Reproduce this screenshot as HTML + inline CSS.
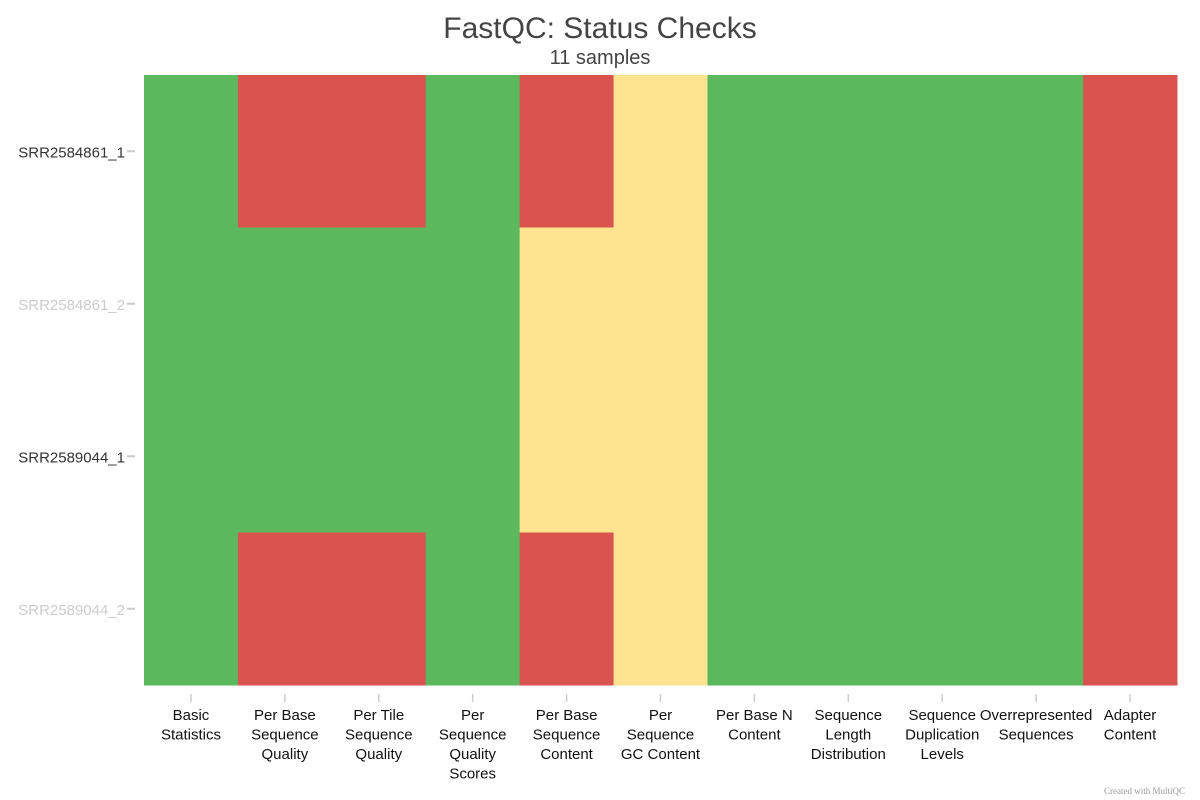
<!DOCTYPE html>
<html><head><meta charset="utf-8"><style>
body{margin:0;background:#fff;}
svg{display:block;font-family:"Liberation Sans",sans-serif;}
</style></head><body>
<svg id="chart" width="1200" height="800">
<text x="600" y="38" text-anchor="middle" font-size="30" fill="#444">FastQC: Status Checks</text>
<text x="600" y="64" text-anchor="middle" font-size="20" fill="#444">11 samples</text>
<g id="cells"></g>
<g id="ylab"></g>
<g id="xlab"></g>
<text x="1185" y="794" text-anchor="end" font-size="9" fill="#999" font-family="Liberation Serif, serif">Created with MultiQC</text>
</svg>
<script>
const samples = ["SRR2584861_1","SRR2584861_2","SRR2589044_1","SRR2589044_2"];
const sampleFaded = [false,true,false,true];
const checks = [["Basic","Statistics"],["Per Base","Sequence","Quality"],["Per Tile","Sequence","Quality"],["Per","Sequence","Quality","Scores"],["Per Base","Sequence","Content"],["Per","Sequence","GC Content"],["Per Base N","Content"],["Sequence","Length","Distribution"],["Sequence","Duplication","Levels"],["Overrepresented","Sequences"],["Adapter","Content"]];
// 1 = pass, 0.5 = warn, 0 = fail
const row0 = [1,0,0,1,0,0.5,1,1,1,1,0];
const row1 = [1,1,1,1,0.5,0.5,1,1,1,1,0];
const row2 = [1,1,1,1,0.5,0.5,1,1,1,1,0];
const row3 = [1,0,0,1,0,0.5,1,1,1,1,0];
const values = [row0,row1,row2,row3];

const NS="http://www.w3.org/2000/svg";
const X0=144,X1=1177,Y0=75,Y1=685;
const cw=(X1-X0)/checks.length, rh=(Y1-Y0)/samples.length;
const xs=i=>X0+i*cw, ys=j=>Y0+j*rh;
const color=v=>v>=1?"#5cb85c":(v>=0.5?"#fee391":"#d9534f");
function mk(tag,attrs,parent){const e=document.createElementNS(NS,tag);for(const k in attrs)e.setAttribute(k,attrs[k]);parent.appendChild(e);return e;}
const cells=document.getElementById('cells'),yl=document.getElementById('ylab'),xl=document.getElementById('xlab');
values.forEach((row,j)=>row.forEach((v,i)=>{
  const r=mk('rect',{x:xs(i),y:ys(j),width:cw+0.5,height:rh+0.5,fill:color(v)},cells);
  
  
}));
samples.forEach((s,j)=>{
  const yc=ys(j)+rh/2;
  const t=mk('text',{x:125,y:yc+6,'text-anchor':'end','font-size':15,fill:sampleFaded[j]?'#ccc':'#333'},yl);
  t.textContent=s;
  
  
  mk('line',{x1:127,x2:135,y1:yc,y2:yc,stroke:'#ccc','stroke-width':2},yl);
});
checks.forEach((lines,i)=>{
  const xc=xs(i)+cw/2;
  mk('line',{x1:xc,x2:xc,y1:694,y2:702,stroke:'#ccc','stroke-width':1.5},xl);
  const t=mk('text',{x:xc,'text-anchor':'middle','font-size':15,fill:'#111'},xl);
  
  
  lines.forEach((ln,k)=>{const s=mk('tspan',{x:xc,y:720+k*19.5},t);s.textContent=ln;});
});
</script>
</body></html>
